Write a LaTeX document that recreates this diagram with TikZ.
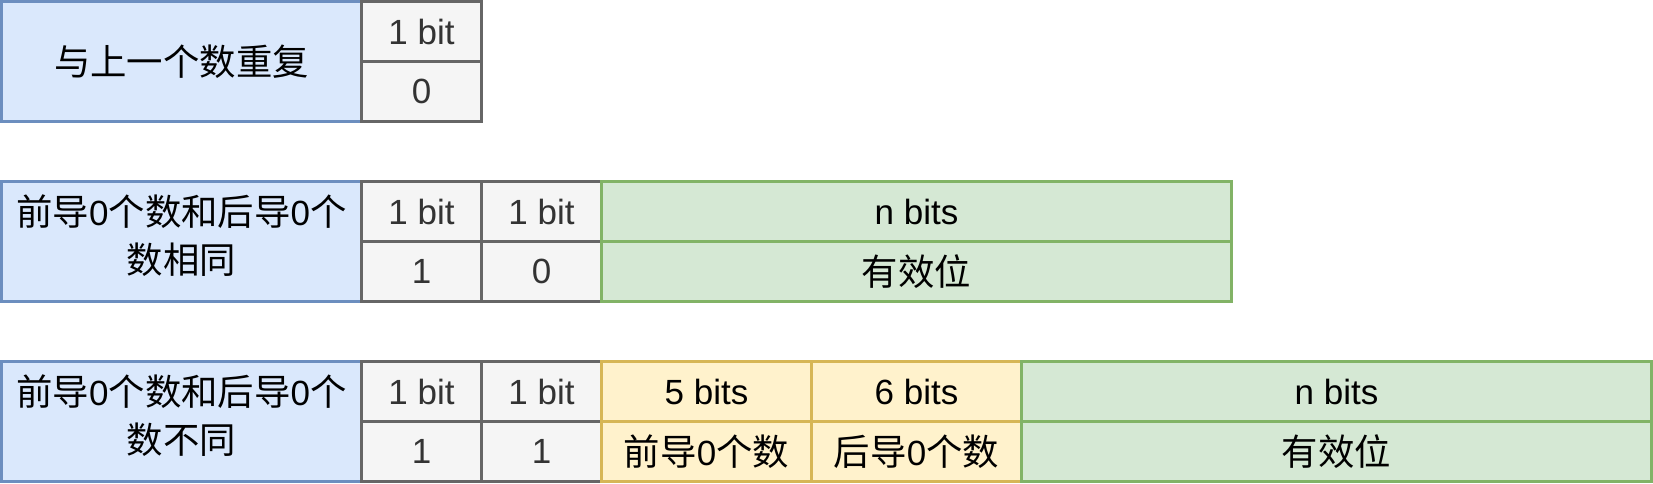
\documentclass[tikz,border=0pt]{standalone}
\usepackage{fontspec}
\setmainfont{Liberation Sans}
\newfontfamily\cjk[Scale=1.04]{Noto Sans CJK SC}
\newcommand\zh[1]{{\cjk #1}}
\definecolor{bluefill}{HTML}{DAE8FC}
\definecolor{bluedraw}{HTML}{6C8EBF}
\definecolor{grayfill}{HTML}{F5F5F5}
\definecolor{graydraw}{HTML}{666666}
\definecolor{graytext}{HTML}{333333}
\definecolor{greenfill}{HTML}{D5E8D4}
\definecolor{greendraw}{HTML}{82B366}
\definecolor{yellowfill}{HTML}{FFF2CC}
\definecolor{yellowdraw}{HTML}{D6B656}
\tikzset{
  cellbox/.style={rectangle, inner sep=0pt, outer sep=0pt, line width=2.5pt,
    align=center, font=\fontsize{35}{48}\selectfont},
  bluecell/.style={cellbox, draw=bluedraw, fill=bluefill, minimum width=360pt, minimum height=120pt},
  graycell/.style={cellbox, draw=graydraw, fill=grayfill, text=graytext, minimum width=120pt, minimum height=60pt},
  yellowcell/.style={cellbox, draw=yellowdraw, fill=yellowfill, minimum width=210pt, minimum height=60pt},
  greencell/.style={cellbox, draw=greendraw, fill=greenfill, minimum width=630pt, minimum height=60pt},
  celltext/.style={inner sep=0pt, align=center, font=\fontsize{35}{48}\selectfont},
}
\begin{document}
\begin{tikzpicture}[x=1pt, y=-1pt]
\useasboundingbox (0,0) rectangle (1653,483);
% row 1
\node[bluecell] (b1) at (181.5,61.5) {\zh{与上一个数重复}};
\node[graycell] (g1a) at (421.5,31.5) {1 bit};
\node[graycell] (g1b) at (421.5,91.5) {0};
% row 2
\node[bluecell] (b2) at (181.5,241.5) {};
\node[celltext] (b2t) at (181.5,235.5) {\zh{前导}0\zh{个数和后导}0\zh{个}\\\zh{数相同}};
\node[graycell] (g2a) at (421.5,211.5) {1 bit};
\node[graycell] (g2b) at (421.5,271.5) {1};
\node[graycell] (g2c) at (541.5,211.5) {1 bit};
\node[graycell] (g2d) at (541.5,271.5) {0};
\node[greencell] (n2a) at (916.5,211.5) {n bits};
\node[greencell] (n2b) at (916.5,271.5) {\zh{有效位}};
% row 3
\node[bluecell] (b3) at (181.5,421.5) {};
\node[celltext] (b3t) at (181.5,415.5) {\zh{前导}0\zh{个数和后导}0\zh{个}\\\zh{数不同}};
\node[graycell] (g3a) at (421.5,391.5) {1 bit};
\node[graycell] (g3b) at (421.5,451.5) {1};
\node[graycell] (g3c) at (541.5,391.5) {1 bit};
\node[graycell] (g3d) at (541.5,451.5) {1};
\node[yellowcell] (y3a) at (706.5,391.5) {5 bits};
\node[yellowcell] (y3b) at (706.5,451.5) {\zh{前导}0\zh{个数}};
\node[yellowcell] (y3c) at (916.5,391.5) {6 bits};
\node[yellowcell] (y3d) at (916.5,451.5) {\zh{后导}0\zh{个数}};
\node[greencell] (n3a) at (1336.5,391.5) {n bits};
\node[greencell] (n3b) at (1336.5,451.5) {\zh{有效位}};
\end{tikzpicture}
\end{document}
